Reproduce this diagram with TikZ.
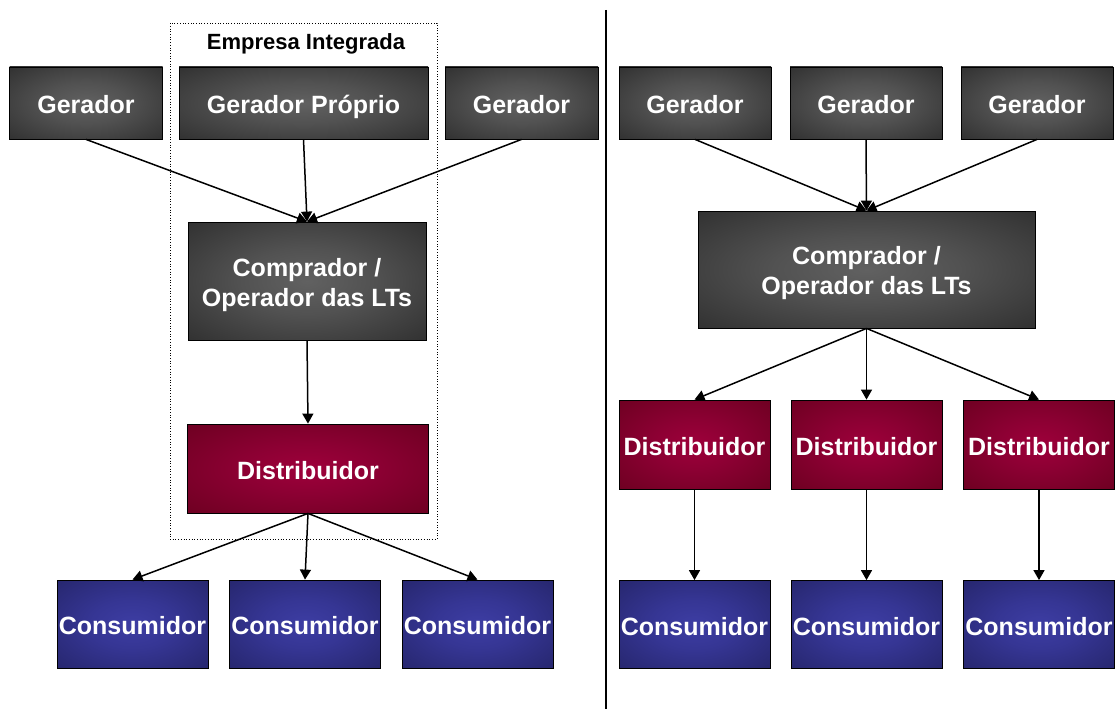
\documentclass[tikz,border=0pt]{standalone}
\usepackage{fontspec}
\setmainfont{Liberation Sans}
\usetikzlibrary{arrows.meta}

% soft centre glow for the three box families
\pgfdeclareradialshading{genglow}{\pgfpoint{0bp}{0bp}}{%
  rgb(0bp)=(0.38,0.38,0.38); rgb(14bp)=(0.32,0.32,0.32); rgb(36bp)=(0.19,0.19,0.19); rgb(50bp)=(0.15,0.15,0.15)}
\pgfdeclareradialshading{distglow}{\pgfpoint{0bp}{0bp}}{%
  rgb(0bp)=(0.62,0.0,0.23); rgb(14bp)=(0.55,0.0,0.2); rgb(36bp)=(0.43,0.0,0.13); rgb(50bp)=(0.38,0.0,0.11)}
\pgfdeclareradialshading{consglow}{\pgfpoint{0bp}{0bp}}{%
  rgb(0bp)=(0.24,0.24,0.64); rgb(14bp)=(0.21,0.21,0.58); rgb(36bp)=(0.15,0.15,0.43); rgb(50bp)=(0.13,0.13,0.38)}

\newcommand{\topstrut}{\rule{0pt}{26pt}}

\tikzset{
  box/.style={draw=black, line width=0.8pt, inner sep=0pt, text=white, align=center,
    font=\fontsize{25}{30}\selectfont\bfseries},
  oneline/.style={text height=24pt, text depth=3pt},
  genbox/.style={box, shading=genglow, minimum height=72pt},
  distbox/.style={box, oneline, shading=distglow, minimum height=89pt},
  consbox/.style={box, oneline, shading=consglow, minimum height=88pt},
  flow/.style={line width=1.5pt, -{Triangle[length=10pt,width=11pt]}},
  framebox/.style={draw, dotted, line width=0.7pt, inner sep=0pt},
}

\begin{document}
\begin{tikzpicture}[x=1pt, y=-1pt]
\useasboundingbox (0,0) rectangle (1117,709);

% ---------- left: integrated utility ----------
\node[framebox, minimum width=267pt, minimum height=516pt] (emp) at (303.5,281) {};
\node[font=\fontsize{22}{24}\selectfont\bfseries] (emptitle) at (306,44) {Empresa Integrada};

\node[genbox, oneline, minimum width=153pt] (lg1) at (86,103) {Gerador};
\node[genbox, oneline, minimum width=249pt] (lgp) at (303.5,103) {Gerador Próprio};
\node[genbox, oneline, minimum width=153pt] (lg3) at (521.5,103) {Gerador};

\node[genbox, minimum width=238pt, minimum height=118pt] (lcomp) at (307,281) {\topstrut Comprador /\\Operador das LTs};
\node[distbox, minimum width=241pt] (ldist) at (308,468.5) {Distribuidor};

\node[consbox, minimum width=151pt] (lc1) at (132.5,624) {Consumidor};
\node[consbox, minimum width=151pt] (lc2) at (305,624) {Consumidor};
\node[consbox, minimum width=151pt] (lc3) at (477.5,624) {Consumidor};

\draw[flow] (lg1.south) -- (lcomp.north);
\draw[flow] (lgp.south) -- (lcomp.north);
\draw[flow] (lg3.south) -- (lcomp.north);
\draw[flow] (lcomp.south) -- (ldist.north);
\draw[flow] (ldist.south) -- (lc1.north);
\draw[flow] (ldist.south) -- (lc2.north);
\draw[flow] (ldist.south) -- (lc3.north);

% ---------- divider ----------
\coordinate (dtop) at (606,10);
\coordinate (dbot) at (606,709);
\draw[line width=1.3pt] (dtop) -- (dbot);

% ---------- right: unbundled market ----------
\node[genbox, oneline, minimum width=152pt] (rg1) at (695,103) {Gerador};
\node[genbox, oneline, minimum width=152pt] (rg2) at (866,103) {Gerador};
\node[genbox, oneline, minimum width=152pt] (rg3) at (1037,103) {Gerador};

\node[genbox, minimum width=337pt, minimum height=117pt] (rcomp) at (866.5,269.5) {\topstrut Comprador /\\Operador das LTs};

\node[distbox, minimum width=151pt] (rd1) at (694.5,444.5) {Distribuidor};
\node[distbox, minimum width=151pt] (rd2) at (866.5,444.5) {Distribuidor};
\node[distbox, minimum width=151pt] (rd3) at (1039,444.5) {Distribuidor};

\node[consbox, minimum width=151pt] (rc1) at (694.5,624.5) {Consumidor};
\node[consbox, minimum width=151pt] (rc2) at (866.5,624.5) {Consumidor};
\node[consbox, minimum width=151pt] (rc3) at (1039,624.5) {Consumidor};

\draw[flow] (rg1.south) -- (rcomp.north);
\draw[flow] (rg2.south) -- (rcomp.north);
\draw[flow] (rg3.south) -- (rcomp.north);
\draw[flow] (rcomp.south) -- (rd1.north);
\draw[flow] (rcomp.south) -- (rd2.north);
\draw[flow] (rcomp.south) -- (rd3.north);
\draw[flow] (rd1.south) -- (rc1.north);
\draw[flow] (rd2.south) -- (rc2.north);
\draw[flow] (rd3.south) -- (rc3.north);
\end{tikzpicture}
\end{document}
